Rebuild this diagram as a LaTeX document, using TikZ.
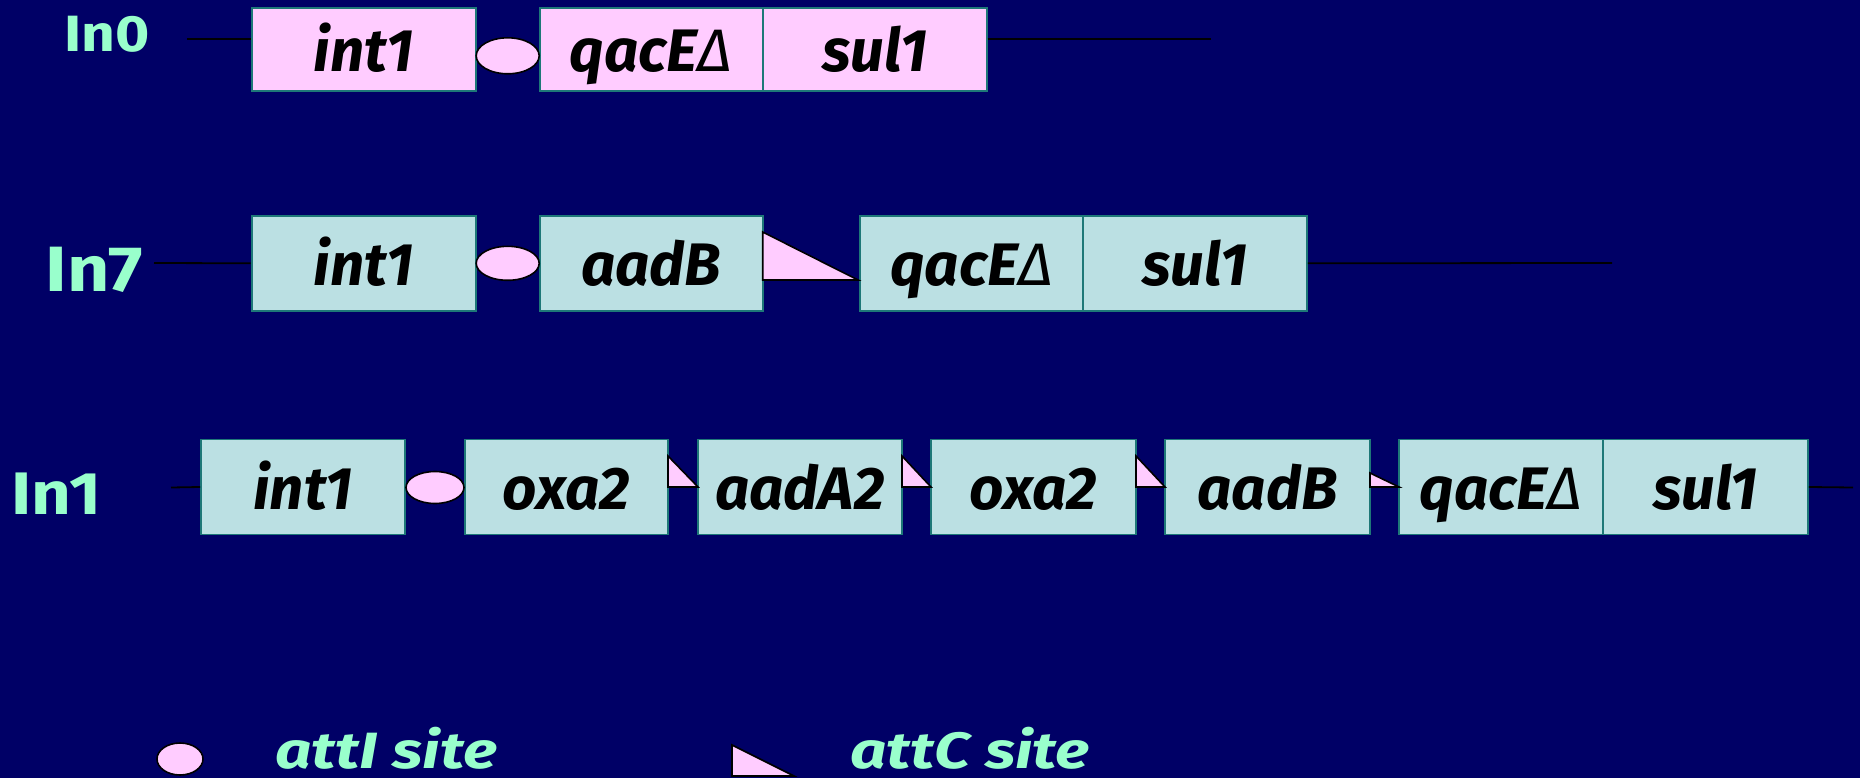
\documentclass[tikz,border=0pt]{standalone}
\usepackage{fontspec}
\setmainfont{Fira Sans}
\newfontfamily\genefont{Fira Sans}
\newfontfamily\labfont[FakeStretch=1.15]{Fira Sans}
\newfontfamily\legfont[FakeStretch=1.25]{Fira Sans}
\usetikzlibrary{shapes.geometric}
\definecolor{navy}{HTML}{000066}
\definecolor{pinkbox}{HTML}{FFCCFF}
\definecolor{bluebox}{HTML}{BBE0E3}
\definecolor{tealline}{HTML}{1E7878}
\definecolor{mint}{HTML}{99FFCC}
\newcommand{\dlt}{{\mdseries Δ}}
\begin{document}
\begin{tikzpicture}[x=1pt,y=-1pt,
  gene/.style={draw=tealline, line width=1.8pt, inner sep=0pt, text=black,
    font=\genefont\bfseries\itshape\fontsize{60}{62}\selectfont,
    text height=44pt, text depth=0pt},
  pinkg/.style={gene, fill=pinkbox},
  blueg/.style={gene, fill=bluebox},
  row0/.style={minimum height=83pt},
  row1/.style={minimum height=95pt},
  att/.style={ellipse, draw=black, line width=1.6pt, fill=pinkbox, inner sep=0pt},
  tri/.style={draw=black, line width=1.6pt, fill=pinkbox, line join=miter},
  wire/.style={draw=black, line width=1.8pt},
  intl/.style={text=mint, anchor=base, inner sep=0pt, font=\labfont\bfseries},
  legt/.style={text=mint, anchor=base west, inner sep=0pt, text depth=0pt,
    font=\legfont\bfseries\itshape\fontsize{51}{53}\selectfont}]
\fill[navy] (0,0) rectangle (1860,778);
\useasboundingbox (0,0) rectangle (1860,778);

% ---------- In0 ----------
\node[intl, font=\labfont\bfseries\fontsize{51}{53}\selectfont] (L0) at (107,52) {In0};
\coordinate (w0s) at (187,39);
\coordinate (w0e) at (1211,39);
\node[pinkg, row0, minimum width=224pt] (a1) at (363.6,49.8) {int1};
\node[pinkg, row0, minimum width=223pt] (a2) at (651.2,49.8) {qacE\dlt};
\node[pinkg, row0, minimum width=224pt] (a3) at (874.8,49.8) {sul1};
\draw[wire] (w0s) -- (w0s -| a1.west);
\draw[wire] (a3.east |- w0e) -- (w0e);
\node[att, minimum width=63pt, minimum height=36pt] (e0) at (507.7,55.8) {};

% ---------- In7 ----------
\node[intl, font=\labfont\bfseries\fontsize{64}{66}\selectfont] (L7) at (94,291) {In7};
\coordinate (w7s) at (154,263);
\coordinate (w7e) at (1612,263);
\node[blueg, row1, minimum width=224pt] (b1) at (363.6,263.3) {int1};
\node[blueg, row1, minimum width=223pt] (b2) at (651.2,263.3) {aadB};
\node[blueg, row1, minimum width=223pt] (b3) at (971.5,263.3) {qacE\dlt};
\node[blueg, row1, minimum width=224pt] (b4) at (1195,263.3) {sul1};
\draw[wire] (w7s) -- (b1.west);
\draw[wire] (b4.east) -- (w7e);
\node[att, minimum width=63pt, minimum height=34pt] (e7) at (507.7,263.3) {};
\draw[tri] (762.7,232) -- (762.7,280) -- (858,280) -- cycle;

% ---------- In1 ----------
\node[intl, font=\labfont\bfseries\fontsize{60}{62}\selectfont] (L1) at (56,514) {In1};
\coordinate (w1s) at (171,487.5);
\coordinate (w1e) at (1853,487.5);
\node[blueg, row1, minimum width=204pt] (c1) at (303,487) {int1};
\node[blueg, row1, minimum width=203pt] (c2) at (566.5,487) {oxa2};
\node[blueg, row1, minimum width=204pt] (c3) at (800,487) {aadA2};
\node[blueg, row1, minimum width=205pt] (c4) at (1033.5,487) {oxa2};
\node[blueg, row1, minimum width=205pt] (c5) at (1267.5,487) {aadB};
\node[blueg, row1, minimum width=204pt] (c6) at (1501,487) {qacE\dlt};
\node[blueg, row1, minimum width=205pt] (c7) at (1705.5,487) {sul1};
\draw[wire] (w1s) -- (c1.west);
\draw[wire] (c7.east) -- (w1e);
\node[att, minimum width=58pt, minimum height=32pt] (e1) at (435,487.5) {};
\draw[tri] (668,456) -- (668,487) -- (698,487) -- cycle;
\draw[tri] (902,456) -- (902,487) -- (931,487) -- cycle;
\draw[tri] (1136,456) -- (1136,487) -- (1165,487) -- cycle;
\draw[tri] (1370,473) -- (1370,487) -- (1399,487) -- cycle;

% ---------- legend ----------
\node[att, minimum width=46pt, minimum height=32pt] (le) at (180,759) {};
\node[legt] (lt1) at (275,768) {attI site};
\draw[tri] (732,745) -- (732,776) -- (794,776) -- cycle;
\node[legt] (lt2) at (850,768) {attC site};
\end{tikzpicture}
\end{document}
